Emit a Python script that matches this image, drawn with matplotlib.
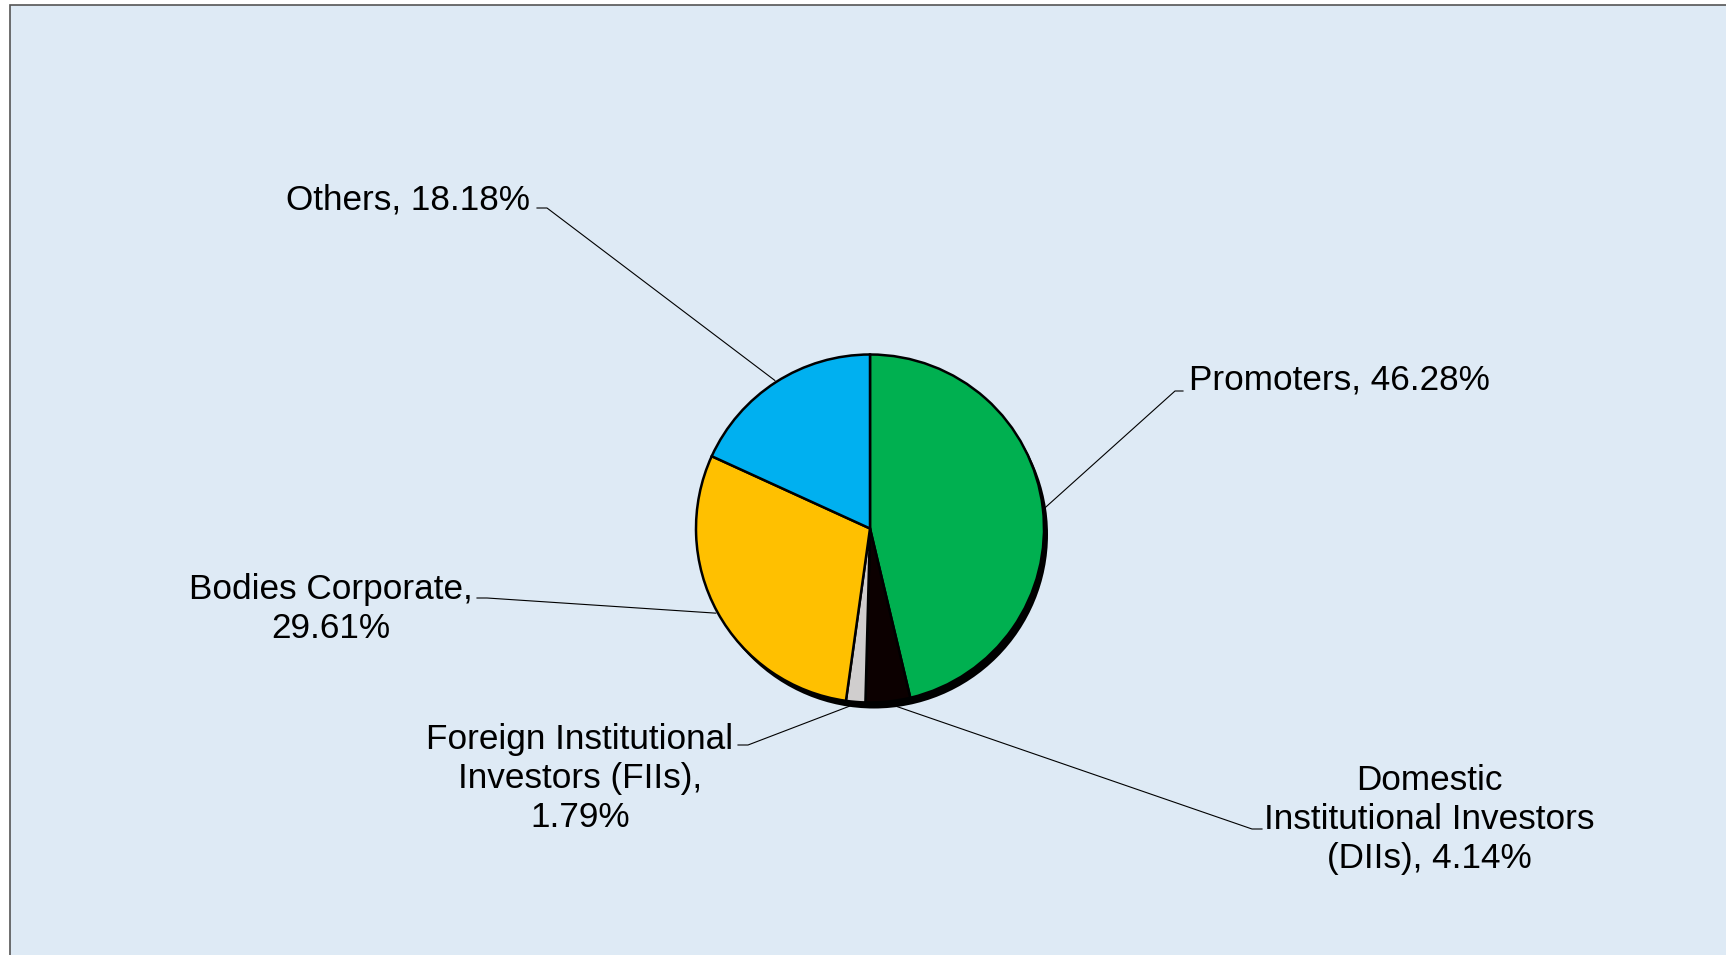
import numpy as np
import matplotlib.pyplot as plt
from matplotlib.patches import Circle, Rectangle

W, H = 1726, 955

# shareholding pattern (%), clockwise from 12 o'clock
categories = ["Promoters", "Domestic Institutional Investors (DIIs)",
              "Foreign Institutional Investors (FIIs)", "Bodies Corporate", "Others"]
shares = [46.28, 4.14, 1.79, 29.61, 18.18]
label_texts = [
    "Promoters, 46.28%",
    "Domestic\nInstitutional Investors\n(DIIs), 4.14%",
    "Foreign Institutional\nInvestors (FIIs),\n1.79%",
    "Bodies Corporate,\n29.61%",
    "Others, 18.18%",
]
colors = ["#00b050", "#0c0000", "#d0cece", "#ffc000", "#00b0f0"]

# label layout in pixels from top-left: (text x, last baseline y, ha, elbow, end)
layout = [
    (1189, 390, "left", (1175, 391), (1183, 391)),
    (1429, 868, "center", (1252, 829), (1262, 829)),
    (580, 827, "center", (748, 745), (738, 745)),
    (331, 638, "center", (487, 598), (477, 598)),
    (530, 209, "right", (547, 208), (537, 208)),
]

CX, CY, R = 870, 528.5, 174

plt.rcParams["font.family"] = ["Liberation Sans", "DejaVu Sans"]

fig = plt.figure(figsize=(W / 100, H / 100), dpi=100, facecolor="white")
ax = fig.add_axes([0, 0, 1, 1])

# chart area background + frame
ax.add_patch(Rectangle((9.5, -20), W + 20, H - 5 + 20, facecolor="#deeaf5",
                       edgecolor="#555555", linewidth=1.2, zorder=0))

# drop shadow behind the pie
ax.add_patch(Circle((CX + 4, H - CY - 6), R, facecolor="black", edgecolor="none", zorder=1))

wedges, _ = ax.pie(shares, colors=colors, startangle=90, counterclock=False,
                   center=(CX, H - CY), radius=R,
                   wedgeprops=dict(edgecolor="black", linewidth=1.8))
for w in wedges:
    w.set_zorder(2)

for w, txt, (tx, ty, ha, elbow, end) in zip(wedges, label_texts, layout):
    mid = np.deg2rad((w.theta1 + w.theta2) / 2)
    ex = CX + (R + 2) * np.cos(mid)
    ey = (H - CY) + (R + 2) * np.sin(mid)
    ax.plot([ex, elbow[0], end[0]], [ey, H - elbow[1], H - end[1]],
            color="black", linewidth=0.8, zorder=1.5)
    ax.text(tx, H - ty, txt, ha=ha, va="baseline", fontsize=25.3,
            linespacing=1.23, color="black", zorder=3)

ax.set_xlim(0, W)
ax.set_ylim(0, H)
ax.set_aspect("auto")
ax.axis("off")

fig.savefig("out.png", dpi=100, facecolor="white")
